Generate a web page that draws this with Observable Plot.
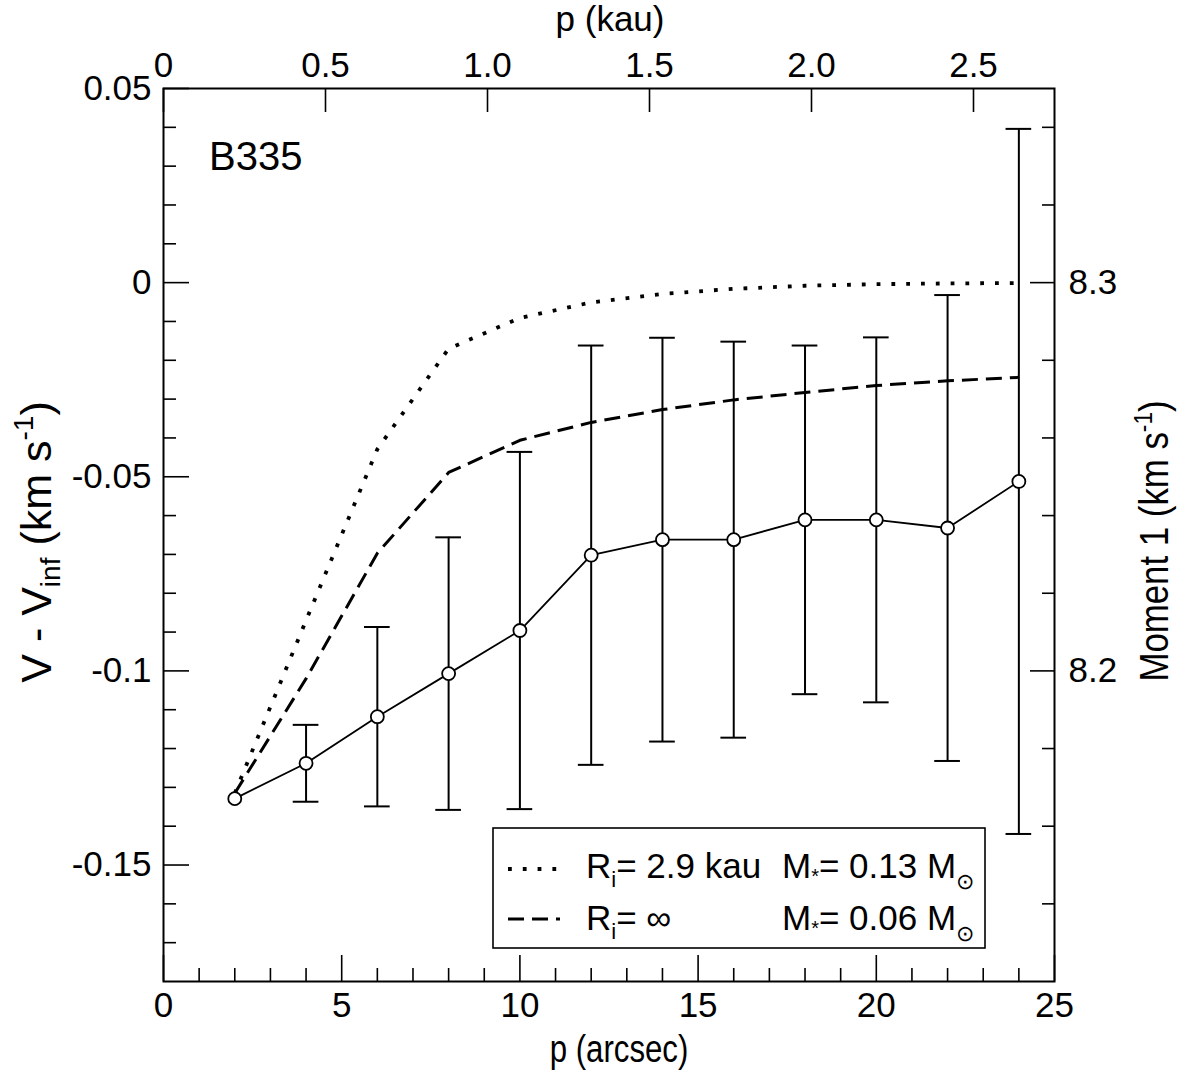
<!DOCTYPE html>
<html>
<head>
<meta charset="utf-8">
<script src="https://cdn.jsdelivr.net/npm/d3@7"></script>
<script src="https://cdn.jsdelivr.net/npm/@observablehq/plot@0.6"></script>
<style>
  html, body { margin: 0; padding: 0; background: white; }
</style>
</head>
<body>
<script>
// ---- data ----
const pArcsec = [2, 4, 6, 8, 10, 12, 14, 16, 18, 20, 22, 24];
const vObs    = [-0.1329, -0.1238, -0.1118, -0.1007, -0.0896, -0.0702, -0.0662, -0.0662, -0.0611, -0.0611, -0.0632, -0.0512];
const vErr    = [0, 0.0099, 0.0231, 0.0351, 0.0460, 0.0540, 0.0520, 0.0510, 0.0449, 0.0470, 0.0600, 0.0908];
const vModelRi29 = [-0.1315, -0.0870, -0.0429, -0.0170, -0.0091, -0.0051, -0.0029, -0.0016, -0.0008, -0.0004, -0.0002, -0.0001];
const vModelRiInf = [-0.1315, -0.1020, -0.0697, -0.0489, -0.0406, -0.0360, -0.0327, -0.0302, -0.0283, -0.0265, -0.0253, -0.0244];

// ticks
const xMajorTicks = [0, 5, 10, 15, 20, 25];
const xMinorTicks = [1, 2, 3, 4, 6, 7, 8, 9, 11, 12, 13, 14, 16, 17, 18, 19, 21, 22, 23, 24];
const yMajorTicks = [0.05, 0, -0.05, -0.1, -0.15];
const yMajorTickLabels = ["0.05", "0", "-0.05", "-0.1", "-0.15"];
const yMinorTicks = [0.04, 0.03, 0.02, 0.01, -0.01, -0.02, -0.03, -0.04, -0.06, -0.07, -0.08, -0.09, -0.11, -0.12, -0.13, -0.14, -0.16, -0.17];
const kauTicks = [0, 0.5, 1.0, 1.5, 2.0, 2.5];
const kauTickLabels = ["0", "0.5", "1.0", "1.5", "2.0", "2.5"];
const kauPerArcsec = 0.11;
const momentMajorTicks = [8.3, 8.2];
const momentMajorLabels = ["8.3", "8.2"];
const momentMinorTicks = [8.34, 8.32, 8.28, 8.26, 8.24, 8.22, 8.18, 8.16, 8.14];
const momentOffset = 8.3;

// ---- layout ----
const W = 1180, H = 1071;
const mL = 163, mR = 126, mT = 88, mB = 90;
const innerW = W - mL - mR, innerH = H - mT - mB;
const FONT = "'Liberation Sans', Arial, Helvetica, sans-serif";

const obs = pArcsec.map((p, i) => ({p, v: vObs[i], lo: vObs[i] - vErr[i], hi: vObs[i] + vErr[i], e: vErr[i]}));
const withErr = obs.filter(d => d.e > 0);
const m1 = pArcsec.map((p, i) => ({p, v: vModelRi29[i]}));
const m2 = pArcsec.map((p, i) => ({p, v: vModelRiInf[i]}));
const capHalf = 0.36; // arcsec

const tickStyle = {stroke: "black", strokeWidth: 1.6};
const LBL = 35;

const svg = Plot.plot({
  width: W, height: H,
  marginLeft: mL, marginRight: mR, marginTop: mT, marginBottom: mB,
  x: {domain: [0, 25]},
  y: {domain: [-0.18, 0.05]},
  style: {background: "white", fontFamily: FONT, color: "black"},
  marks: [
    // axis labels
    Plot.axisX({ticks: xMajorTicks, tickSize: 0, tickPadding: 11, fontSize: LBL, label: null}),
    Plot.axisY({ticks: yMajorTicks, tickSize: 0, tickPadding: 12, fontSize: LBL, label: null,
      tickFormat: d => yMajorTickLabels[yMajorTicks.indexOf(d)]}),
    Plot.text(kauTicks, {x: d => d / kauPerArcsec, frameAnchor: "top", dy: -12, lineAnchor: "bottom",
      text: (d, i) => kauTickLabels[i], fontSize: LBL}),
    Plot.text(momentMajorTicks, {y: d => d - momentOffset, frameAnchor: "right", dx: 14, textAnchor: "start",
      text: (d, i) => momentMajorLabels[i], fontSize: LBL}),
    // inward ticks
    Plot.tickX(xMajorTicks, {x: d => d, insetTop: innerH - 26, ...tickStyle}),
    Plot.tickX(xMinorTicks, {x: d => d, insetTop: innerH - 13, ...tickStyle}),
    Plot.tickX(kauTicks, {x: d => d / kauPerArcsec, insetBottom: innerH - 24, ...tickStyle}),
    Plot.tickY(yMajorTicks, {y: d => d, insetRight: innerW - 26, ...tickStyle}),
    Plot.tickY(yMinorTicks, {y: d => d, insetRight: innerW - 13, ...tickStyle}),
    Plot.tickY(momentMajorTicks, {y: d => d - momentOffset, insetLeft: innerW - 24, ...tickStyle}),
    Plot.tickY(momentMinorTicks, {y: d => d - momentOffset, insetLeft: innerW - 12, ...tickStyle}),
    // models
    Plot.line(m1, {x: "p", y: "v", stroke: "black", strokeWidth: 3.8, strokeDasharray: "3.8,11", strokeLinecap: "butt"}),
    Plot.line(m2, {x: "p", y: "v", stroke: "black", strokeWidth: 3, strokeDasharray: "16,8", strokeLinecap: "butt"}),
    // error bars
    Plot.ruleX(withErr, {x: "p", y1: "lo", y2: "hi", stroke: "black", strokeWidth: 2}),
    Plot.ruleY(withErr, {y: "hi", x1: d => d.p - capHalf, x2: d => d.p + capHalf, stroke: "black", strokeWidth: 2}),
    Plot.ruleY(withErr, {y: "lo", x1: d => d.p - capHalf, x2: d => d.p + capHalf, stroke: "black", strokeWidth: 2}),
    // observed line + points
    Plot.line(obs, {x: "p", y: "v", stroke: "black", strokeWidth: 1.8}),
    Plot.dot(obs, {x: "p", y: "v", r: 6.5, fill: "white", stroke: "black", strokeWidth: 1.8}),
    Plot.frame({stroke: "black", strokeWidth: 2})
  ]
});
document.body.appendChild(svg);

// ---- titles, annotation and legend (with sub/superscripts) ----
const s = d3.select(svg);
function addText(sel, attrs, parts) {
  const t = sel.append("text").attr("fill", "black").attr("font-family", FONT).attr("text-anchor", "start");
  for (const k in attrs) t.attr(k, attrs[k]);
  for (const p of parts) {
    const ts = t.append("tspan").text(p.t);
    if (p.dy) ts.attr("dy", p.dy);
    if (p.fs) ts.attr("font-size", p.fs);
  }
  return t;
}
// bottom title (condensed look)
addText(s, {transform: "translate(619,1062) scale(0.8,1)", "text-anchor": "middle", "font-size": 39}, [{t: "p (arcsec)"}]);
// top title
addText(s, {x: 610, y: 31, "text-anchor": "middle", "font-size": 35}, [{t: "p (kau)"}]);
// left title
addText(s, {transform: "translate(51,542) rotate(-90)", "text-anchor": "middle", "font-size": 43},
  [{t: "V - V"}, {t: "inf", dy: 9, fs: 28}, {t: " (km s", dy: -9}, {t: "-1", dy: -18, fs: 28}, {t: ")", dy: 18}]);
// right title
addText(s, {transform: "translate(1168,541) rotate(-90) scale(0.87,1)", "text-anchor": "middle", "font-size": 40},
  [{t: "Moment 1 (km s"}, {t: "-1", dy: -16, fs: 26}, {t: ")", dy: 16}]);
// object name
addText(s, {x: 209, y: 170, "font-size": 40}, [{t: "B335"}]);

// legend
const lg = s.append("g");
lg.append("rect").attr("x", 493).attr("y", 828).attr("width", 492).attr("height", 120)
  .attr("fill", "white").attr("stroke", "black").attr("stroke-width", 1.6);
lg.append("line").attr("x1", 508).attr("x2", 560).attr("y1", 869).attr("y2", 869)
  .attr("stroke", "black").attr("stroke-width", 3.8).attr("stroke-dasharray", "3.8,11");
lg.append("line").attr("x1", 508).attr("x2", 560).attr("y1", 919).attr("y2", 919)
  .attr("stroke", "black").attr("stroke-width", 3).attr("stroke-dasharray", "16,8");
addText(lg, {x: 586, y: 878, "font-size": 35}, [{t: "R"}, {t: "i", dy: 9, fs: 22}, {t: "= 2.9 kau", dy: -9}]);
addText(lg, {x: 782, y: 878, "font-size": 35}, [{t: "M"}, {t: "*", dy: 5, fs: 20}, {t: "= 0.13 M", dy: -5}, {t: "⊙", dy: 11, fs: 22}]);
addText(lg, {x: 586, y: 930, "font-size": 35}, [{t: "R"}, {t: "i", dy: 9, fs: 22}, {t: "= ∞", dy: -9}]);
addText(lg, {x: 782, y: 930, "font-size": 35}, [{t: "M"}, {t: "*", dy: 5, fs: 20}, {t: "= 0.06 M", dy: -5}, {t: "⊙", dy: 11, fs: 22}]);
</script>
</body>
</html>
